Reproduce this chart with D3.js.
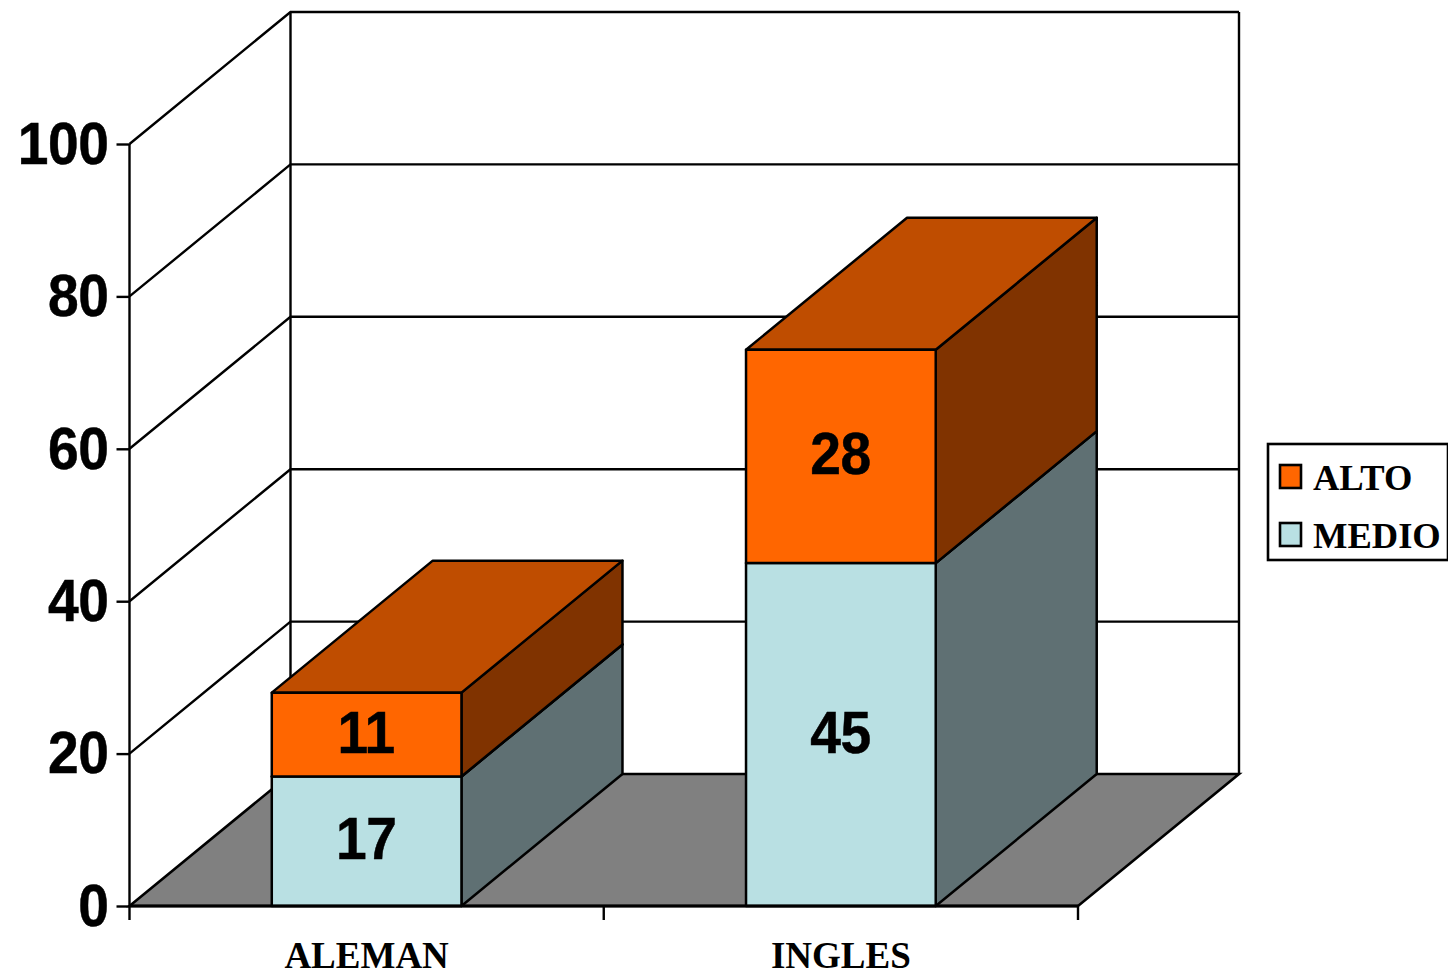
<!DOCTYPE html>
<html>
<head>
<meta charset="utf-8">
<script src="https://cdn.jsdelivr.net/npm/d3@7"></script>
<style>
  html, body { margin: 0; padding: 0; background: #fff; overflow: hidden; }
  svg { display: block; }
  .sans { font-family: "Liberation Sans", Arial, sans-serif; font-weight: 700; stroke: #000; stroke-width: 0.5px; }
  .serif { font-family: "Liberation Serif", "Times New Roman", serif; font-weight: 700; }
</style>
</head>
<body>
<svg id="chart" width="1448" height="973"></svg>
<script>
// Chart values
const categories = ["ALEMAN", "INGLES"];
const medioValues = [17, 45];
const altoValues = [11, 28];
const seriesNames = ["ALTO", "MEDIO"];
const yTicks = [0, 20, 40, 60, 80, 100];

// Colours per series: front, top and side faces
const palette = {
  MEDIO: { front: "#b9e0e3", top: "#8ca8aa", side: "#5f7073" },
  ALTO: { front: "#ff6600", top: "#bf4d00", side: "#803300" }
};

// Oblique projection: the back plane is shifted right and up from the front plane
const depthX = 161;
const depthY = -132;
const ink = "#000";

// Numbers are set in a slightly condensed bold sans
const numberSize = 60;
const numberSqueeze = 0.92;

const svg = d3.select("#chart");
const y = d3.scaleLinear().domain([0, 100]).range([906, 144]);
const x = d3.scaleBand().domain(categories).range([129.5, 1078]).paddingInner(0).paddingOuter(0);
const barWidth = x.bandwidth() * 0.4;
const barLeft = c => x(c) + (x.bandwidth() - barWidth) / 2;
const line = d3.line();
const x0 = x.range()[0], x1 = x.range()[1], y0 = y(0), yTop = y(100);

// Floor
svg.append("path")
  .attr("d", line([[x0, y0], [x0 + depthX, y0 + depthY], [x1 + depthX, y0 + depthY], [x1, y0]]) + "Z")
  .attr("fill", "#808080").attr("stroke", ink).attr("stroke-width", 2.6);

// Gridlines along the side wall and across the back wall
const grid = svg.append("g").attr("fill", "none").attr("stroke", ink).attr("stroke-width", 2.4);
yTicks.filter(t => t > 0).forEach(t => {
  grid.append("path").attr("d", line([
    [x0, y(t)], [x0 + depthX, y(t) + depthY], [x1 + depthX, y(t) + depthY]
  ]));
});
grid.append("path").attr("d", line([[x0, y0], [x0, yTop]]));
grid.append("path").attr("d", line([[x0 + depthX, y0 + depthY], [x0 + depthX, yTop + depthY]]));
grid.append("path").attr("d", line([[x1 + depthX, y0 + depthY], [x1 + depthX, yTop + depthY]]));

// Stacked blocks
const stack = d3.stack().keys(["MEDIO", "ALTO"])(categories.map((c, i) => ({
  category: c, MEDIO: medioValues[i], ALTO: altoValues[i]
})));
function face(points, fill) {
  svg.append("path").attr("d", line(points) + "Z").attr("fill", fill)
    .attr("stroke", ink).attr("stroke-width", 2.5).attr("stroke-linejoin", "round");
}
categories.forEach((c, i) => {
  const l = barLeft(c), r = l + barWidth;
  stack.forEach(layer => {
    const colors = palette[layer.key];
    const lo = y(layer[i][0]), hi = y(layer[i][1]);
    face([[r, lo], [r + depthX, lo + depthY], [r + depthX, hi + depthY], [r, hi]], colors.side);
    face([[l, hi], [l + depthX, hi + depthY], [r + depthX, hi + depthY], [r, hi]], colors.top);
    face([[l, lo], [r, lo], [r, hi], [l, hi]], colors.front);
  });
});

// Value labels centred on each front face
stack.forEach(layer => {
  categories.forEach((c, i) => {
    const v = layer[i][1] - layer[i][0];
    const tx = barLeft(c) + barWidth / 2 - 0.5;
    const ty = (y(layer[i][0]) + y(layer[i][1])) / 2 + 18;
    svg.append("text").attr("class", "sans")
      .attr("transform", `translate(${tx},${ty}) scale(${numberSqueeze},1)`)
      .attr("text-anchor", "middle")
      .attr("font-size", numberSize).attr("letter-spacing", -0.5)
      .text(v);
  });
});

// Vertical axis
const yAxis = d3.axisLeft(y).tickValues(yTicks).tickSize(13).tickFormat(d3.format("d"));
const yG = svg.append("g").attr("transform", "translate(129.5,0)").call(yAxis);
yG.select(".domain").remove();
yG.selectAll("line").attr("stroke", ink).attr("stroke-width", 2.4);
yG.selectAll("text").attr("class", "sans").attr("font-size", numberSize).attr("letter-spacing", -0.5)
  .attr("fill", ink).attr("font-family", null)
  .attr("x", 0)
  .attr("transform", `translate(-21,0) scale(${numberSqueeze},1)`);

// Horizontal axis line with ticks at the category boundaries
svg.append("path").attr("d", line([[x0, y0], [x1, y0]])).attr("stroke", ink).attr("stroke-width", 3.2);
const boundaries = categories.map(c => x(c)).concat(x1);
svg.append("g").selectAll("line").data(boundaries).join("line")
  .attr("x1", d => d).attr("x2", d => d).attr("y1", y0).attr("y2", y0 + 14)
  .attr("stroke", ink).attr("stroke-width", 2.4);
svg.append("g").selectAll("text").data(categories).join("text")
  .attr("class", "serif")
  .attr("x", c => x(c) + x.bandwidth() / 2)
  .attr("y", 968)
  .attr("text-anchor", "middle")
  .attr("font-size", 37)
  .text(d => d);

// Legend
const legend = svg.append("g");
legend.append("rect").attr("x", 1268).attr("y", 444).attr("width", 180).attr("height", 116)
  .attr("fill", "#fff").attr("stroke", ink).attr("stroke-width", 2.6);
seriesNames.forEach((name, i) => {
  const cy = 477 + i * 58;
  legend.append("rect").attr("x", 1280).attr("y", cy - 12).attr("width", 21).attr("height", 23)
    .attr("fill", palette[name].front).attr("stroke", ink).attr("stroke-width", 2.6);
  legend.append("text").attr("class", "serif").attr("x", 1313).attr("y", cy + 13)
    .attr("font-size", 36.5).text(name);
});
</script>
</body>
</html>
